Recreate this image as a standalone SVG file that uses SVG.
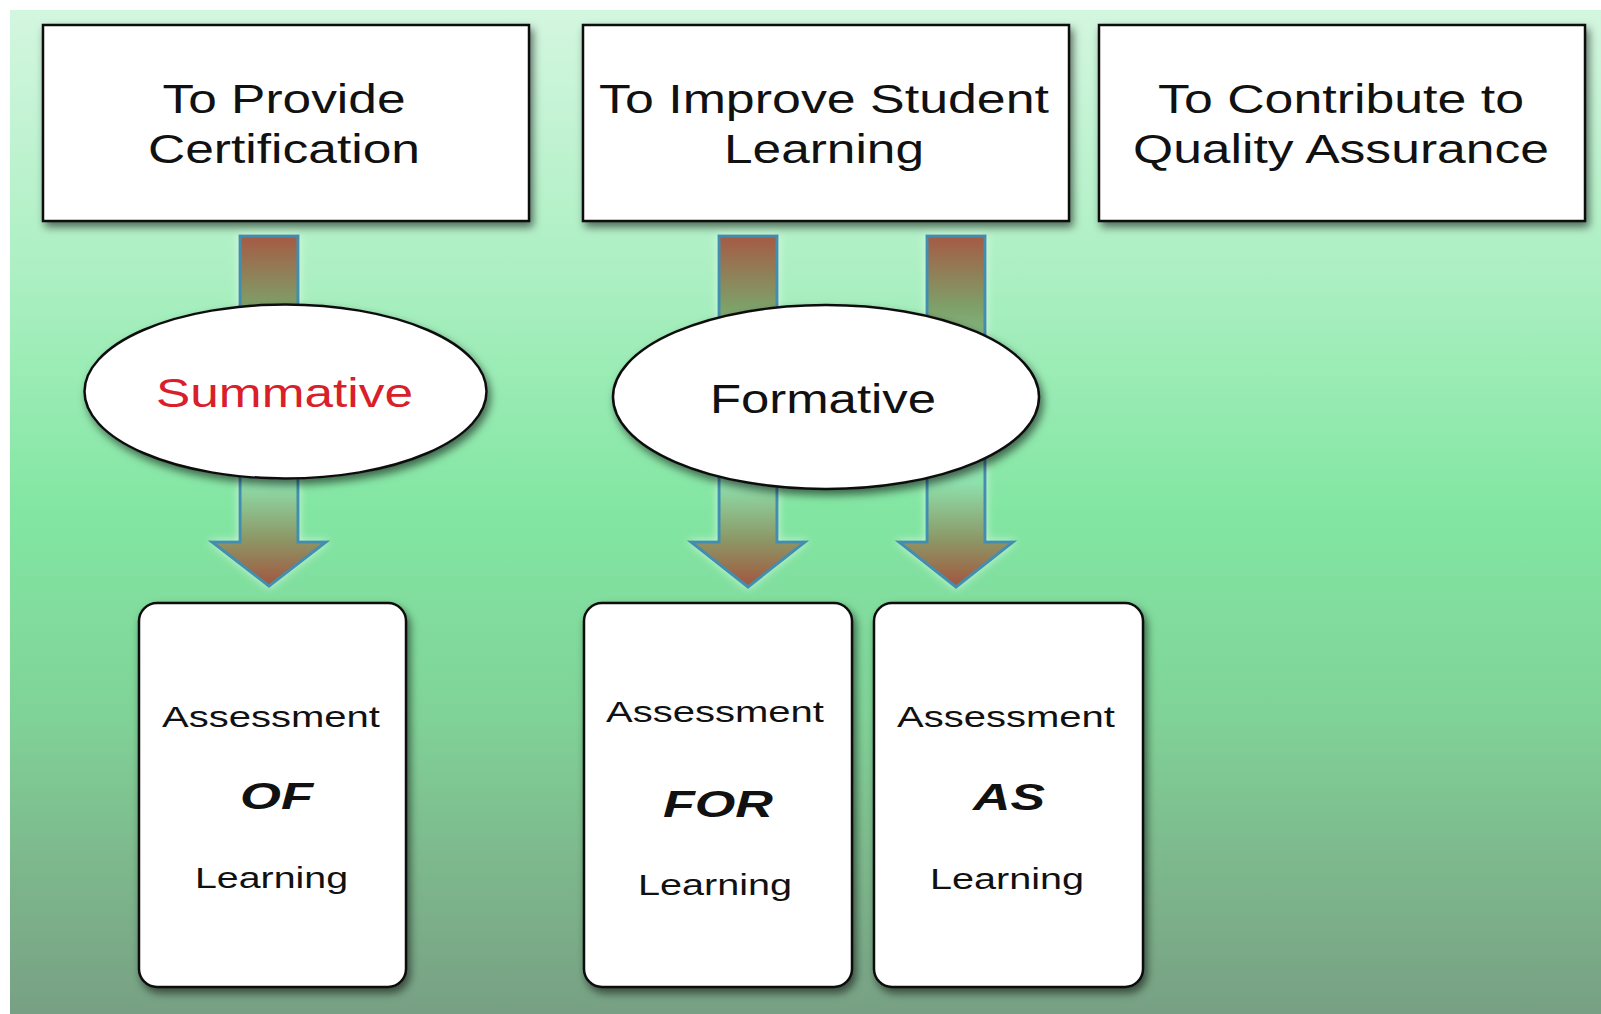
<svg xmlns="http://www.w3.org/2000/svg" width="1601" height="1014" viewBox="0 0 1601 1014">
<defs>
<linearGradient id="bg" x1="0" y1="0" x2="0" y2="1">
<stop offset="0" stop-color="#d3f6df"/>
<stop offset="0.25" stop-color="#aef0c4"/>
<stop offset="0.5" stop-color="#82e6a2"/>
<stop offset="0.7" stop-color="#80d398"/>
<stop offset="0.85" stop-color="#7db88c"/>
<stop offset="1" stop-color="#78a084"/>
</linearGradient>
<linearGradient id="arrowFill" x1="0" y1="0" x2="0" y2="1">
<stop offset="0" stop-color="#a55a45"/>
<stop offset="0.2" stop-color="#7ea068"/>
<stop offset="0.4" stop-color="#88d3a0"/>
<stop offset="0.7" stop-color="#8ee2ae"/>
<stop offset="0.86" stop-color="#8c9a68"/>
<stop offset="1" stop-color="#a3553f"/>
</linearGradient>
<filter id="shadow" x="-10%" y="-10%" width="125%" height="130%">
<feDropShadow dx="3" dy="5" stdDeviation="4" flood-color="#000" flood-opacity="0.55"/>
</filter>
<filter id="glow" x="-30%" y="-10%" width="160%" height="120%">
<feDropShadow dx="0" dy="0" stdDeviation="4" flood-color="#e8fff0" flood-opacity="0.7"/>
</filter>
</defs>
<style>
.box{fill:#fff;stroke:#111;stroke-width:2.5;filter:url(#shadow)}
.ell{fill:#fff;stroke:#111;stroke-width:2.5;filter:url(#shadow)}
.arrow{fill:url(#arrowFill);stroke:#3f8fb0;stroke-width:3;stroke-linejoin:miter;filter:url(#glow)}
.t{font-family:"Liberation Sans",Arial,sans-serif;fill:#111;text-anchor:middle}
.big{font-size:40px}
.small{font-size:29px}
.bi{font-size:37px;font-weight:bold;font-style:italic}
.red{fill:#d9202a}
</style>
<rect x="0" y="0" width="1601" height="1014" fill="#fff"/>
<rect x="10" y="10" width="1591" height="1004" fill="url(#bg)"/>

<g id="connectors">
<path class="arrow" d="M240,236 H298 V542 H326 L269,586 L212,542 H240 Z"/>
<path class="arrow" d="M719,236 H777 V542 H805 L748,587 L691,542 H719 Z"/>
<path class="arrow" d="M927,236 H985 V542 H1013 L956,587 L899,542 H927 Z"/>
</g>

<g id="certification">
<rect class="box" x="43" y="25" width="486" height="196"/>
<text class="t big" x="284" y="113" textLength="243" lengthAdjust="spacingAndGlyphs">To Provide</text>
<text class="t big" x="284" y="163" textLength="272" lengthAdjust="spacingAndGlyphs">Certification</text>
</g>
<g id="improve">
<rect class="box" x="583" y="25" width="486" height="196"/>
<text class="t big" x="824" y="113" textLength="450" lengthAdjust="spacingAndGlyphs">To Improve Student</text>
<text class="t big" x="824" y="163" textLength="200" lengthAdjust="spacingAndGlyphs">Learning</text>
</g>
<g id="quality">
<rect class="box" x="1099" y="25" width="486" height="196"/>
<text class="t big" x="1341" y="113" textLength="366" lengthAdjust="spacingAndGlyphs">To Contribute to</text>
<text class="t big" x="1341" y="163" textLength="416" lengthAdjust="spacingAndGlyphs">Quality Assurance</text>
</g>

<g id="summative">
<ellipse class="ell" cx="285.5" cy="391.5" rx="201" ry="87"/>
<text class="t big red" x="284.5" y="407" textLength="257" lengthAdjust="spacingAndGlyphs">Summative</text>
</g>
<g id="formative">
<ellipse class="ell" cx="826" cy="397" rx="213" ry="92"/>
<text class="t big" x="823" y="413" textLength="226" lengthAdjust="spacingAndGlyphs">Formative</text>
</g>

<g id="assessment-of">
<rect class="box" x="139" y="603" width="267" height="384" rx="18" ry="18"/>
<text class="t small" x="271" y="727" textLength="218" lengthAdjust="spacingAndGlyphs">Assessment</text>
<text class="t bi" x="276.5" y="809" textLength="73" lengthAdjust="spacingAndGlyphs">OF</text>
<text class="t small" x="271.5" y="888" textLength="153" lengthAdjust="spacingAndGlyphs">Learning</text>
</g>
<g id="assessment-for">
<rect class="box" x="584" y="603" width="268" height="384" rx="18" ry="18"/>
<text class="t small" x="715" y="722" textLength="218" lengthAdjust="spacingAndGlyphs">Assessment</text>
<text class="t bi" x="718" y="817" textLength="110" lengthAdjust="spacingAndGlyphs">FOR</text>
<text class="t small" x="715" y="895" textLength="154" lengthAdjust="spacingAndGlyphs">Learning</text>
</g>
<g id="assessment-as">
<rect class="box" x="874" y="603" width="269" height="384" rx="18" ry="18"/>
<text class="t small" x="1006" y="727" textLength="218" lengthAdjust="spacingAndGlyphs">Assessment</text>
<text class="t bi" x="1009" y="810" textLength="72" lengthAdjust="spacingAndGlyphs">AS</text>
<text class="t small" x="1007" y="889" textLength="154" lengthAdjust="spacingAndGlyphs">Learning</text>
</g>
</svg>
